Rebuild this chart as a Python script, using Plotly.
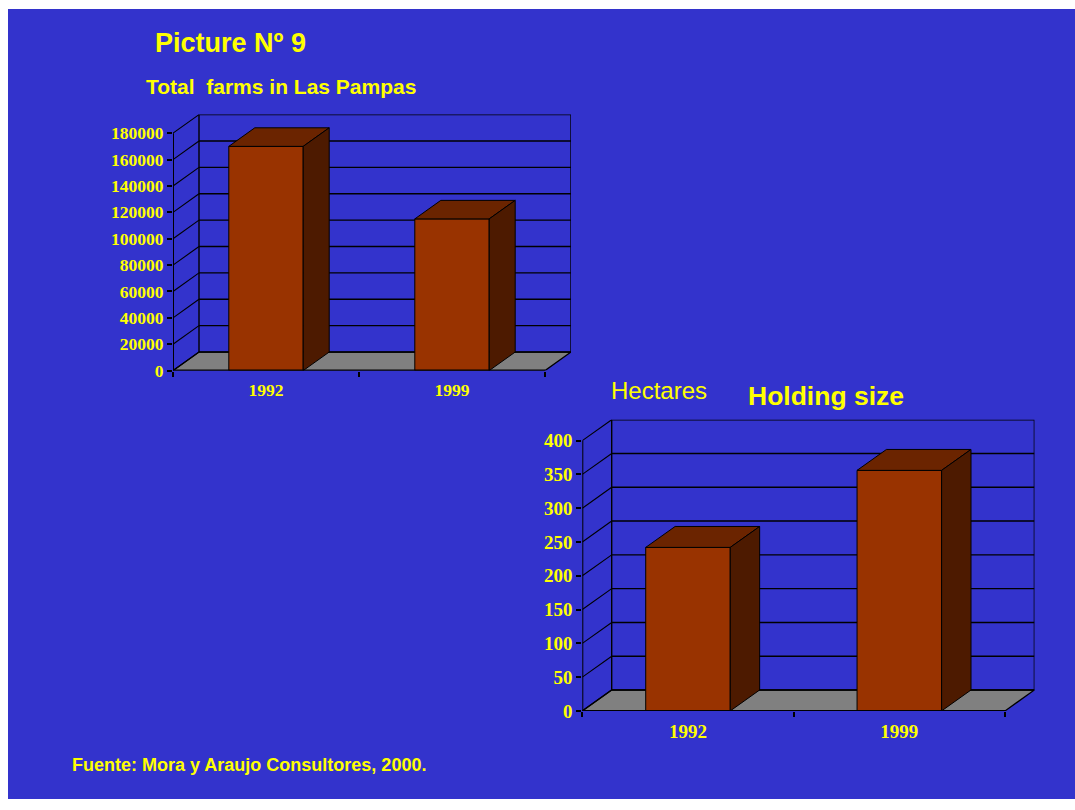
import plotly.graph_objects as go

W, H = 1075, 810

# ---------------- data ----------------
years = ["1992", "1999"]
farms = [170000, 115000]          # Total farms in Las Pampas
holding = [242, 356]              # Holding size (hectares)
farm_ticks = [0, 20000, 40000, 60000, 80000, 100000, 120000, 140000, 160000, 180000]
hect_ticks = [0, 50, 100, 150, 200, 250, 300, 350, 400]

# ---------------- style ----------------
BG = "#3333CC"
YEL = "#FFFF00"
FRONT = "#993300"
TOP = "#6B2400"
SIDE = "#4D1A00"
FLOOR = "#808080"
SANS = "Liberation Sans, Arial, sans-serif"
SERIF = "Liberation Serif, Times New Roman, serif"
BW = 0.4  # bar width in category units

charts = [
    dict(xa="x", ya="y", fl=173, fr=545, y0=375.7, ytop=135, vmax=180000,
         dx=26, dy=18.8, vals=farms, ticks=farm_ticks, fs=17.5),
    dict(xa="x2", ya="y2", fl=582.3, fr=1005, y0=720.7, ytop=446.7, vmax=400,
         dx=29.4, dy=21.2, vals=holding, ticks=hect_ticks, fs=19),
]

fig = go.Figure()
shapes = [dict(type="rect", xref="paper", yref="paper", x0=8 / W, x1=1, y0=0, y1=1 - 9 / H,
               fillcolor=BG, line=dict(width=0), layer="below")]

for c in charts:
    ppc = (c["fr"] - c["fl"]) / 2.0
    ppv = (c["y0"] - c["ytop"]) / c["vmax"]
    ddx = c["dx"] / ppc
    ddy = c["dy"] / ppv
    c["ddx"], c["ddy"] = ddx, ddy
    xa, ya = c["xa"], c["ya"]
    vmax = c["vmax"]

    # front faces
    fig.add_trace(go.Bar(x=[0, 1], y=c["vals"], width=BW, xaxis=xa, yaxis=ya,
                         marker=dict(color=FRONT, line=dict(color="black", width=1)),
                         hoverinfo="skip", showlegend=False))
    # top and side faces
    for i, v in enumerate(c["vals"]):
        l, r = i - BW / 2, i + BW / 2
        fig.add_trace(go.Scatter(x=[l, l + ddx, r + ddx, r, l], y=[v, v + ddy, v + ddy, v, v],
                                 mode="lines", fill="toself", fillcolor=TOP,
                                 line=dict(color="black", width=1), xaxis=xa, yaxis=ya,
                                 hoverinfo="skip", showlegend=False))
        fig.add_trace(go.Scatter(x=[r, r + ddx, r + ddx, r, r], y=[0, ddy, v + ddy, v, 0],
                                 mode="lines", fill="toself", fillcolor=SIDE,
                                 line=dict(color="black", width=1), xaxis=xa, yaxis=ya,
                                 hoverinfo="skip", showlegend=False))

    L, R = -0.5, 1.5
    # floor
    shapes.append(dict(type="path", xref=xa, yref=ya, layer="below",
                       path=f"M{L},0 L{L+ddx},{ddy} L{R+ddx},{ddy} L{R},0 Z",
                       fillcolor=FLOOR, line=dict(color="black", width=1.3)))
    # back wall frame
    shapes.append(dict(type="rect", xref=xa, yref=ya, layer="below",
                       x0=L + ddx, x1=R + ddx, y0=ddy, y1=vmax + ddy,
                       line=dict(color="black", width=1.4)))
    # back wall gridlines and side diagonals
    for v in c["ticks"]:
        if 0 < v < vmax:
            shapes.append(dict(type="line", xref=xa, yref=ya, layer="below",
                               x0=L + ddx, x1=R + ddx, y0=v + ddy, y1=v + ddy,
                               line=dict(color="black", width=1.4)))
        shapes.append(dict(type="line", xref=xa, yref=ya, layer="below",
                           x0=L, x1=L + ddx, y0=v, y1=v + ddy,
                           line=dict(color="black", width=1.1)))
    # front axis lines
    shapes.append(dict(type="line", xref=xa, yref=ya, x0=L, x1=L, y0=0, y1=vmax,
                       line=dict(color="black", width=2)))
    shapes.append(dict(type="line", xref=xa, yref=ya, x0=L, x1=R, y0=0, y1=0,
                       line=dict(color="black", width=2)))

def xaxis_cfg(c):
    return dict(domain=[c["fl"] / W, (c["fr"] + c["dx"]) / W],
                range=[-0.5, 1.5 + c["ddx"]], showgrid=False, zeroline=False, showline=False,
                tickmode="array", tickvals=[0, 1], ticktext=years, ticks="",
                ticklabelstandoff=7,
                tickfont=dict(family=SERIF, size=c["fs"], color=YEL, weight="bold"),
                minor=dict(tickmode="array", tickvals=[-0.5, 0.5, 1.5], ticks="outside",
                           ticklen=5, tickwidth=1.5, tickcolor="black"),
                anchor=c["ya"], fixedrange=True)

def yaxis_cfg(c):
    return dict(domain=[1 - c["y0"] / H, 1 - (c["ytop"] - c["dy"]) / H],
                range=[0, c["vmax"] + c["ddy"]], showgrid=False, zeroline=False, showline=False,
                tickmode="array", tickvals=c["ticks"], ticktext=[str(t) for t in c["ticks"]],
                ticks="outside", ticklen=5, tickwidth=1.5, tickcolor="black",
                tickfont=dict(family=SERIF, size=c["fs"], color=YEL, weight="bold"),
                anchor=c["xa"], fixedrange=True)

def ann(text, x, y, size, bold=True):
    return dict(text=text, xref="paper", yref="paper", x=x / W, y=1 - y / H,
                xanchor="left", yanchor="middle", showarrow=False,
                font=dict(family=SANS, size=size, color=YEL, weight="bold" if bold else "normal"))

fig.update_layout(
    width=W, height=H, margin=dict(l=0, r=0, t=0, b=0),
    paper_bgcolor="white", plot_bgcolor="rgba(0,0,0,0)",
    barmode="overlay", showlegend=False,
    xaxis=xaxis_cfg(charts[0]), yaxis=yaxis_cfg(charts[0]),
    xaxis2=xaxis_cfg(charts[1]), yaxis2=yaxis_cfg(charts[1]),
    shapes=shapes,
    annotations=[
        ann("Picture Nº 9", 153, 44, 27),
        ann("Total\u00a0 farms in Las Pampas", 144, 88, 21),
        ann("Hectares", 609, 396, 24, bold=False),
        ann("Holding size", 746, 401, 26.5),
        ann("Fuente: Mora y Araujo Consultores, 2000.", 70, 776, 18),
    ],
)

fig.write_html("out.html", config={"displayModeBar": False})
